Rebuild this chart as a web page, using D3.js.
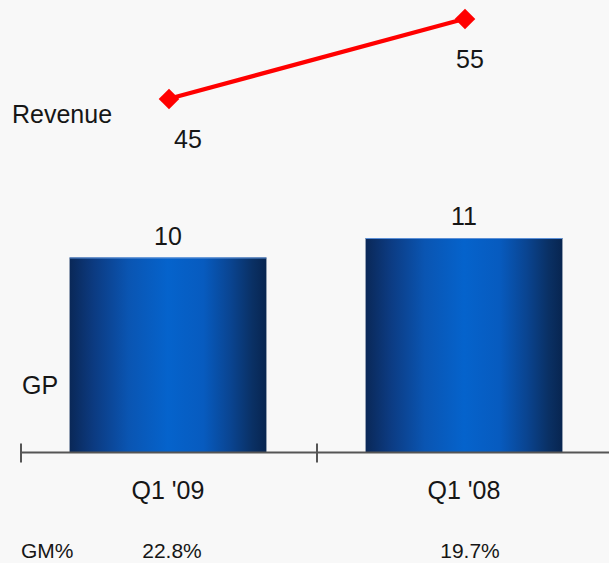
<!DOCTYPE html>
<html>
<head>
<meta charset="utf-8">
<script src="https://cdn.jsdelivr.net/npm/d3@7"></script>
<style>
  html, body { margin: 0; padding: 0; background: #f8f8f8; }
  svg { display: block; }
  text { font-family: "Liberation Sans", Arial, sans-serif; fill: #161616; }
</style>
</head>
<body>
<svg id="chart" width="609" height="563"></svg>
<script>
// Quarters compared
const quarters = ["Q1 '09", "Q1 '08"];
// Gross profit (bars)
const grossProfit = [10, 11];
// Revenue (line)
const revenue = [45, 55];
// Gross margin row under the axis
const grossMargin = ["22.8%", "19.7%"];

const W = 609, H = 563;
const FS = 25, FS_SMALL = 21;
const svg = d3.select("#chart");

// Horizontal layout: one band per quarter, ticks at band edges
const x = d3.scaleBand().domain(quarters).range([20, 612]).padding(0);
const barW = x.bandwidth() * 0.665;
const cx = d => x(d) + x.bandwidth() / 2;

// Vertical scales
const yGP = d3.scaleLinear().domain([0, 11]).range([452.5, 238]);
const yRev = d3.scaleLinear().domain([45, 55]).range([99, 19]);

// Bar gradient: dark edges, bright centre
const defs = svg.append("defs");
const grad = defs.append("linearGradient").attr("id", "barGrad")
  .attr("x1", "0%").attr("x2", "100%").attr("y1", "0%").attr("y2", "0%");
[
  [0, "#0a2857"], [0.12, "#0c3a80"], [0.3, "#0a55b2"], [0.5, "#0563cc"],
  [0.68, "#075bbf"], [0.82, "#0a4490"], [0.93, "#0a3064"], [1, "#082550"]
].forEach(([o, c]) => grad.append("stop").attr("offset", o).attr("stop-color", c));

// Bars
const bars = svg.append("g");
bars.selectAll("rect").data(quarters).join("rect")
  .attr("x", d => cx(d) - barW / 2)
  .attr("y", (d, i) => yGP(grossProfit[i]))
  .attr("width", barW)
  .attr("height", (d, i) => yGP(0) - yGP(grossProfit[i]))
  .attr("fill", "url(#barGrad)");
// Light top edge
bars.selectAll("line").data(quarters).join("line")
  .attr("x1", d => cx(d) - barW / 2)
  .attr("x2", d => cx(d) + barW / 2)
  .attr("y1", (d, i) => yGP(grossProfit[i]) + 0.5)
  .attr("y2", (d, i) => yGP(grossProfit[i]) + 0.5)
  .attr("stroke", "#5b8fd6").attr("stroke-width", 1);

// Bar value labels
svg.append("g").selectAll("text").data(quarters).join("text")
  .attr("x", cx)
  .attr("y", (d, i) => yGP(grossProfit[i]) - 13)
  .attr("text-anchor", "middle")
  .attr("font-size", FS)
  .text((d, i) => grossProfit[i]);

// Category axis
const axis = svg.append("g").attr("transform", `translate(0,${yGP(0)})`);
axis.append("line").attr("x1", 20).attr("x2", W)
  .attr("stroke", "#555").attr("stroke-width", 2);
axis.selectAll("line.tick").data(quarters).join("line").attr("class", "tick")
  .attr("x1", d => x(d) + 1).attr("x2", d => x(d) + 1)
  .attr("y1", -9).attr("y2", 10)
  .attr("stroke", "#555").attr("stroke-width", 2);
svg.append("g").selectAll("text").data(quarters).join("text")
  .attr("x", cx).attr("y", 499)
  .attr("text-anchor", "middle").attr("font-size", FS)
  .text(d => d);

// Revenue line with diamond markers
const line = d3.line().x((d, i) => cx(quarters[i])).y(d => yRev(d));
svg.append("path").datum(revenue)
  .attr("d", line).attr("fill", "none")
  .attr("stroke", "#ff0000").attr("stroke-width", 4.2);
svg.append("g").selectAll("path").data(revenue).join("path")
  .attr("d", d3.symbol(d3.symbolDiamond2, 270))
  .attr("transform", (d, i) => `translate(${cx(quarters[i]) + 1},${yRev(d)})`)
  .attr("fill", "#ff0000");
const revOffsets = [20, 6];
svg.append("g").selectAll("text").data(revenue).join("text")
  .attr("x", (d, i) => cx(quarters[i]) + revOffsets[i])
  .attr("y", d => yRev(d) + 49)
  .attr("text-anchor", "middle").attr("font-size", FS)
  .text(d => d);

// Series names
svg.append("text").attr("x", 12).attr("y", 123).attr("font-size", FS).text("Revenue");
svg.append("text").attr("x", 22).attr("y", 394).attr("font-size", FS).text("GP");

// Gross margin row
svg.append("text").attr("x", 21).attr("y", 558).attr("font-size", FS_SMALL).text("GM%");
const gmOffsets = [4, 6];
svg.append("g").selectAll("text").data(grossMargin).join("text")
  .attr("x", (d, i) => cx(quarters[i]) + gmOffsets[i])
  .attr("y", 558)
  .attr("text-anchor", "middle").attr("font-size", FS_SMALL)
  .text(d => d);
</script>
</body>
</html>
